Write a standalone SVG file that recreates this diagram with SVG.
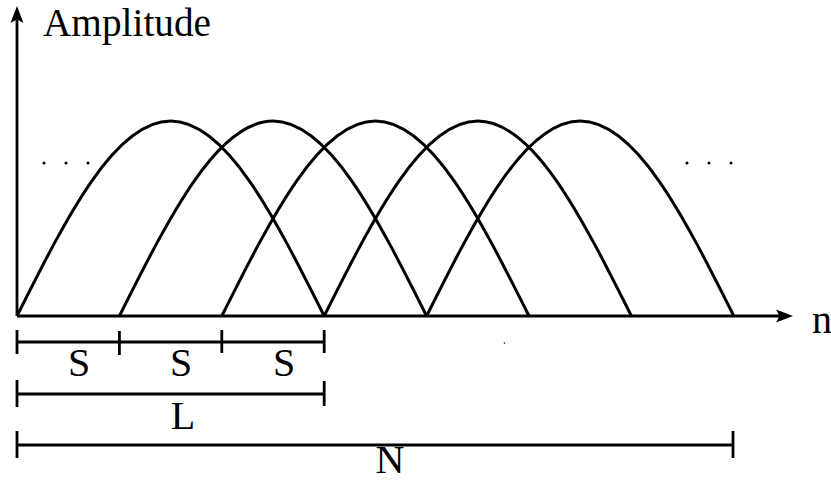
<svg xmlns="http://www.w3.org/2000/svg" width="831" height="481" viewBox="0 0 831 481">
  <style>
    .ln { stroke: #000; stroke-width: 2.8; fill: none; }
    .arch { stroke: #000; stroke-width: 3; fill: none; }
    .t { font-family: "Liberation Serif", "Times New Roman", serif; font-size: 40px; fill: #000; }
    .dot { fill: #000; }
  </style>
  <defs>
    <path id="arch" class="arch" d="M0 316 c 50.09 -99.9 98 -195 153.6 -195 s 103.51 95.1 153.6 195"/>
  </defs>
  <rect width="831" height="481" fill="#fff"/>

  <g id="axes">
    <line class="ln" x1="17" y1="316" x2="780" y2="316"/>
    <polygon points="793,316 776,309.5 779.5,316 776,322.5" fill="#000"/>
    <line class="ln" x1="17" y1="316" x2="17" y2="20"/>
    <polygon points="17,6 10.5,23 17,19.5 23.5,23" fill="#000"/>
    <text id="label-amplitude" class="t" x="43" y="36" font-size="42" textLength="168" lengthAdjust="spacingAndGlyphs">Amplitude</text>
    <text id="label-n" class="t" x="812" y="333">n</text>
  </g>

  <g id="arches">
    <use href="#arch" x="17"/>
    <use href="#arch" x="119.4"/>
    <use href="#arch" x="221.8"/>
    <use href="#arch" x="324.2"/>
    <use href="#arch" x="426.6"/>
  </g>

  <g id="ellipses">
    <circle class="dot" cx="44" cy="163" r="1.5"/>
    <circle class="dot" cx="66" cy="163" r="1.5"/>
    <circle class="dot" cx="88" cy="163" r="1.5"/>
    <circle class="dot" cx="687" cy="163" r="1.5"/>
    <circle class="dot" cx="709" cy="163" r="1.5"/>
    <circle class="dot" cx="731" cy="163" r="1.5"/>
    <circle class="dot" cx="504.5" cy="343" r="0.8"/>
  </g>

  <g id="bracket-S">
    <line class="ln" x1="17" y1="342" x2="324.2" y2="342"/>
    <line class="ln" x1="17" y1="330" x2="17" y2="354"/>
    <line class="ln" x1="119.4" y1="331" x2="119.4" y2="355"/>
    <line class="ln" x1="221.8" y1="330" x2="221.8" y2="353"/>
    <line class="ln" x1="324.2" y1="330" x2="324.2" y2="353"/>
    <text class="t" x="79" y="376" text-anchor="middle">S</text>
    <text class="t" x="181" y="376" text-anchor="middle">S</text>
    <text class="t" x="284" y="376" text-anchor="middle">S</text>
  </g>

  <g id="bracket-L">
    <line class="ln" x1="17" y1="394" x2="324.2" y2="394"/>
    <line class="ln" x1="17" y1="380" x2="17" y2="407"/>
    <line class="ln" x1="324.2" y1="381" x2="324.2" y2="406"/>
    <text class="t" x="183" y="429" text-anchor="middle">L</text>
  </g>

  <g id="bracket-N">
    <line class="ln" x1="17" y1="445" x2="733" y2="445"/>
    <line class="ln" x1="17" y1="431" x2="17" y2="458"/>
    <line class="ln" x1="733" y1="431" x2="733" y2="458"/>
    <text class="t" x="390" y="473" font-size="36" text-anchor="middle">N</text>
  </g>
</svg>
